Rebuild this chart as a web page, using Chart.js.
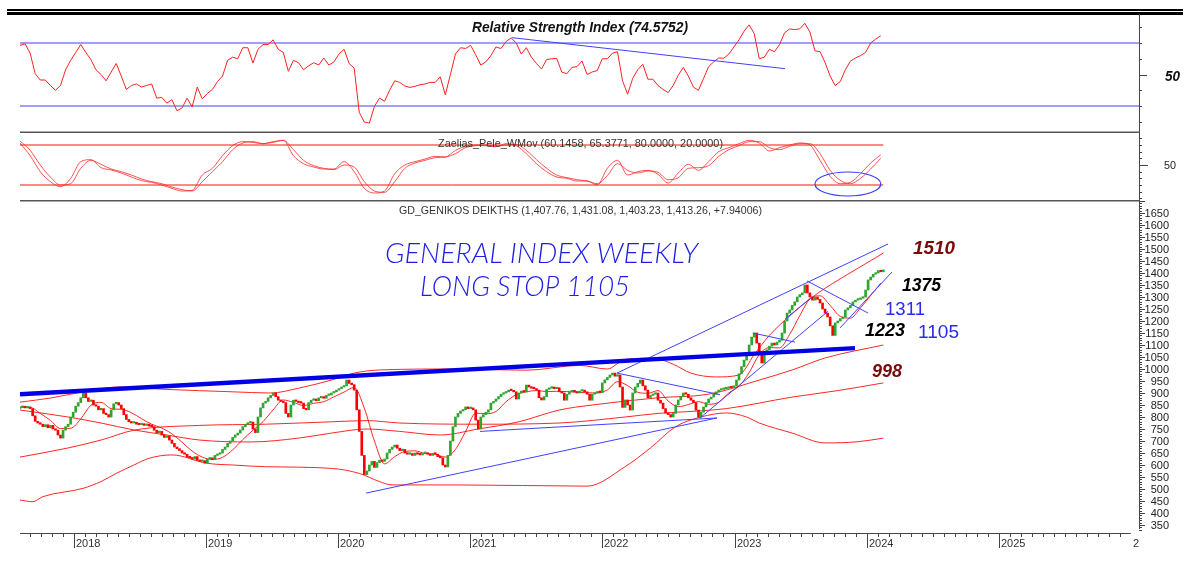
<!DOCTYPE html>
<html>
<head>
<meta charset="utf-8">
<script src="https://cdn.jsdelivr.net/npm/chart.js@4.4.1/dist/chart.umd.min.js"></script>
<style>
  html, body { margin: 0; padding: 0; background: #fff; }
  #wrap { position: relative; width: 1184px; height: 561px; overflow: hidden; background: #fff; }
  #wrap canvas { position: absolute; left: 0; }
  .rule { position: absolute; left: 7px; width: 1176px; background: #000; }
</style>
</head>
<body>
<div id="wrap">
  <div class="rule" style="top:9px;height:2px"></div>
  <div class="rule" style="top:12px;height:3px"></div>
  <canvas id="rsi" width="1184" height="119" style="top:14px"></canvas>
  <canvas id="osc" width="1184" height="67" style="top:133px"></canvas>
  <canvas id="main" width="1184" height="361" style="top:200px"></canvas>
</div>
<script>
// first weekly bar (decimal year) and week length
const FIRST_WEEK = 2017.5912;
const WEEK = 7 / 365.25;
const FIRST_OPEN = 836;

// weekly closes, Aug 2017 - Feb 2024
const closes = [
  840, 845, 838, 842, 835, 805, 782, 775, 770, 760,
  768, 755, 765, 750, 745, 725, 712, 745, 760, 770,
  800, 820, 845, 860, 880, 900, 880, 865, 870, 850,
  845, 830, 835, 815, 810, 800, 830, 855, 860, 850,
  835, 810, 790, 780, 775, 778, 770, 768, 772, 765,
  770, 762, 760, 745, 735, 740, 725, 715, 720, 704,
  690, 675, 668, 660, 650, 645, 633, 630, 625, 635,
  620, 615, 618, 608, 625, 630, 622, 640, 645, 650,
  665, 675, 690, 700, 715, 725, 733, 746, 760, 770,
  775, 779, 750, 735, 800, 838, 858, 865, 880, 890,
  900, 885, 870, 865, 860, 815, 800, 850, 870, 865,
  860, 858, 835, 830, 860, 870, 875, 868, 880, 885,
  878, 890, 892, 900, 905, 912, 918, 925, 930, 954,
  940, 935, 912, 830, 740, 640, 560, 575, 600, 615,
  590, 610, 620, 615, 625, 650, 665, 675, 683, 670,
  660, 665, 650, 645, 648, 640, 650, 645, 642, 648,
  650, 645, 640, 648, 645, 635, 630, 600, 592, 640,
  700, 760, 800, 815, 825, 830, 842, 835, 838, 830,
  787, 750, 800, 810, 820, 830, 858, 865, 875, 885,
  895, 900, 905, 912, 910, 905, 875, 900, 908, 904,
  933, 925, 920, 918, 912, 880, 871, 885, 915, 920,
  925, 918, 922, 905, 900, 870, 895, 905, 910, 905,
  900, 908, 912, 905, 895, 870, 895, 900, 905, 902,
  942, 955, 965, 975, 983, 970, 975, 925, 840, 871,
  850, 829, 900, 925, 940, 954, 930, 912, 880, 890,
  895, 900, 870, 858, 835, 817, 810, 800, 815, 850,
  871, 885, 900, 895, 880, 870, 860, 829, 800, 820,
  842, 860, 875, 883, 895, 905, 912, 915, 918, 920,
  925, 922, 930, 954, 980, 1010, 1037, 1067, 1100, 1133,
  1150, 1108, 1060, 1025, 1067, 1080, 1095, 1108, 1100, 1112,
  1120, 1150, 1200, 1233, 1246, 1265, 1280, 1300, 1310, 1317,
  1350, 1317, 1300, 1287, 1300, 1290, 1275, 1250, 1233, 1217,
  1180, 1140, 1192, 1200, 1210, 1217, 1246, 1255, 1265, 1280,
  1287, 1290, 1295, 1300, 1329, 1371, 1383, 1395, 1400, 1410,
  1405, 1413
];

// RSI, one value every 2 weeks
const RSI_STEP = 2;
const rsi = [
  68.5, 69.5, 63.6, 50.5, 46.5, 46.5, 43, 40, 43, 53,
  59, 64, 69, 64, 59.5, 53, 50, 46, 51.5, 57,
  49, 40.5, 43, 44, 42, 43, 44, 35, 35.5, 31.8,
  34, 27, 28.7, 35, 29.4, 42, 34.5, 38, 40.5, 45.5,
  49, 59, 61, 60, 67, 67, 57.3, 66, 69, 69,
  72, 66, 64, 52, 59, 57.5, 53, 55.5, 57.5, 56,
  60.5, 56, 58, 63, 66, 57, 54, 26, 19.8, 19.2,
  29.8, 35, 33, 40, 46, 45, 42.7, 41.8, 42.5, 43.5,
  44, 45, 45, 48.5, 37, 50, 63, 67, 66.5, 68.5,
  62.5, 56, 58, 62, 67.5, 66.5, 71, 73.2, 70, 63,
  67, 61, 57, 53.5, 59.5, 60, 60.2, 51.5, 50.5, 54.5,
  55, 58.6, 50, 51.6, 52.5, 60, 60, 63.5, 64.5, 46,
  37.5, 47.5, 53, 56.5, 47, 47, 43, 40.5, 38.5, 43,
  49.5, 54.5, 49, 42, 40, 47.5, 55, 58, 60.5, 60.3,
  63, 67.5, 72, 77.5, 81.5, 76, 60, 61, 66, 64.5,
  69, 76.5, 78.9, 78.5, 79, 82.5, 77, 65, 64.5, 57.5,
  49, 43, 45.5, 53, 58.5, 60.5, 62, 64, 70, 72.5, 74.6
];
const rsiLevels = [70, 30];
const rsiTrend = [194.3, 73.4, 302.2, 53.7];

// Zaelias_Pele oscillator, one value every 4 weeks
const OSC_STEP = 4;
const oscFast = [
  83, 64, 40, 25, 17.5, 30, 55, 58, 46, 42.5,
  38, 32, 26.5, 24, 20, 15, 11, 12, 35, 45,
  64, 79, 85, 84, 82, 85, 87, 64, 52, 47,
  44, 44, 55, 40, 15, 8, 11, 37, 50, 55,
  59, 63, 62, 72, 78, 80, 79, 77.5, 82, 79,
  67, 52, 40, 32, 30, 26, 26, 20, 45, 57,
  35, 40, 42, 36, 23, 38, 51, 42, 55, 70,
  76, 82, 87, 83, 71, 76, 80, 83, 80, 57,
  33, 22, 24, 37, 53, 65.4
];
const oscSlow = [
  86, 72, 50, 32, 20, 22, 45, 57, 51, 44,
  40, 35, 29, 25, 22, 17, 13, 11, 25, 40,
  55, 73, 83, 85, 82, 84, 87, 73, 57, 49,
  45, 43, 50, 47, 25, 11, 9, 25, 45, 53,
  57, 61, 62, 67, 76, 79, 80, 78, 80, 81,
  72, 58, 45, 35, 31, 28, 26, 22, 34, 52,
  42, 38, 41, 39, 28, 31, 45, 46, 49, 63,
  73, 79, 85, 85, 76, 73, 78, 82, 82, 67,
  42, 27, 22, 30, 44, 60.1
];
const oscLevels = [80, 20];

// short moving average, one value every 4 weeks
const MA_STEP = 4;
const maFast = [
  840, 840, 815, 786, 752, 753, 792, 849, 861, 835,
  832, 818, 793, 770, 754, 730, 695, 658, 633, 623,
  632, 663, 706, 745, 781, 830, 871, 861, 848, 857,
  864, 884, 904, 923, 837, 700, 605, 635, 656, 659,
  648, 645, 633, 665, 740, 816, 814, 823, 864, 893,
  905, 910, 906, 907, 906, 903, 901, 900, 913, 947,
  931, 903, 899, 910, 867, 843, 852, 864, 853, 862,
  901, 928, 985, 1060, 1089, 1088, 1144, 1222, 1292, 1305,
  1265, 1219, 1212, 1255, 1306, 1358
];

// bands and long averages (week index, value)
const upperWeeks = [0, 12, 25, 39, 58, 84, 99, 110, 123, 132, 142, 170, 200, 221, 232, 239, 250, 258, 265, 275, 284, 290, 296, 305, 315, 327, 335, 341];
const upperBand  = [862, 879, 905, 925, 915, 905, 900, 920, 954, 983, 996, 1000, 995, 1015, 1000, 1040, 1045, 1020, 983, 967, 975, 1060, 1140, 1230, 1315, 1395, 1445, 1483];
const midWeeks = [0, 19, 32, 45, 58, 71, 91, 110, 123, 137, 150, 166, 181, 197, 213, 226, 252, 272, 292, 305, 318, 341];
const midAvg   = [829, 800, 775, 746, 725, 704, 696, 712, 733, 750, 740, 725, 750, 780, 829, 850, 880, 895, 954, 996, 1046, 1100];
const longWeeks = [0, 19, 32, 45, 71, 97, 123, 137, 150, 181, 213, 239, 252, 268, 279, 305, 323, 341];
const longAvg   = [633, 671, 704, 745, 765, 770, 780, 785, 775, 770, 775, 800, 815, 825, 835, 883, 910, 942];
const lowerWeeks = [0, 5, 9, 25, 32, 38, 45, 51, 60, 74, 84, 97, 123, 134, 142, 147, 173, 224, 239, 249, 259, 269, 279, 287, 292, 305, 318, 331, 341];
const lowerBand  = [454, 447, 468, 503, 531, 565, 600, 628, 642, 607, 600, 593, 586, 565, 531, 517, 517, 512, 593, 671, 760, 800, 817, 800, 775, 733, 692, 697, 712];

// hand-drawn trend lines: [week1, value1, week2, value2]
const supportLine = [0, 895, 329.8, 1087];
const trendLines = [
  [136.7, 483, 275.3, 796],
  [181.7, 740, 275.3, 796],
  [235.8, 983, 342.9, 1521],
  [235.8, 983, 276.5, 893],
  [268.6, 796, 319.1, 1240],
  [323.9, 1171, 344.4, 1404],
  [302.2, 1208, 312.8, 1300],
  [289.5, 1150, 306.1, 1112],
  [310.9, 1367, 335.0, 1233]
];

const yearTicks = [2018, 2019, 2020, 2021, 2022, 2023, 2024, 2025, 2026];
const priceTicks = [350, 400, 450, 500, 550, 600, 650, 700, 750, 800, 850, 900, 950, 1000, 1050, 1100, 1150, 1200, 1250, 1300, 1350, 1400, 1450, 1500, 1550, 1600, 1650];

// ---------------------------------------------------------------
const X_MIN = 2017.5912, X_MAX = 2026.062;
const FONT = "'Liberation Sans', Arial, sans-serif";
const RED = "rgba(255, 0, 0, 0.85)";
const BLUE = "#4040ff";

Chart.defaults.font.family = FONT;

const weekToYear = (w) => FIRST_WEEK + w * WEEK;
const stepSeries = (vals, step) => vals.map((v, k) => ({ x: weekToYear(k * step), y: v }));
const pairSeries = (weeks, vals) => weeks.map((w, k) => ({ x: weekToYear(w), y: vals[k] }));
const segment = (s) => [{ x: weekToYear(s[0]), y: s[1] }, { x: weekToYear(s[2]), y: s[3] }];
const levelLine = (v) => [{ x: weekToYear(0), y: v }, { x: weekToYear(closes.length - 1), y: v }];

const line = (data, color, width, extra) => ({
	type: "line",
	data: data,
	borderColor: color,
	borderWidth: width,
	pointRadius: 0,
	fill: false,
	...extra,
});

function panelOptions(yMin, yMax, bottomPad) {
	return {
		responsive: false,
		animation: false,
		events: [],
		layout: { padding: { left: 20, right: 45, top: 0, bottom: bottomPad } },
		plugins: { legend: { display: false }, tooltip: { enabled: false } },
		scales: {
			x: { type: "linear", min: X_MIN, max: X_MAX, offset: false, grid: { offset: false }, display: false },
			y: { type: "linear", min: yMin, max: yMax, display: false },
		},
	};
}

function stroke(ctx, x1, y1, x2, y2) {
	ctx.beginPath();
	ctx.moveTo(x1, y1);
	ctx.lineTo(x2, y2);
	ctx.stroke();
}

// draw text squeezed/stretched to a measured width
function fitText(ctx, text, x, y, width, font, color) {
	ctx.font = font;
	ctx.fillStyle = color;
	ctx.textAlign = "left";
	ctx.textBaseline = "alphabetic";
	const w = ctx.measureText(text).width;
	ctx.save();
	ctx.translate(x, y);
	ctx.scale(width / w, 1);
	ctx.fillText(text, 0, 0);
	ctx.restore();
}

function rightAxis(ctx, a, y, from, to, step, longAt, longLen) {
	ctx.strokeStyle = "#444";
	ctx.lineWidth = 1;
	stroke(ctx, a.right + 0.5, a.top, a.right + 0.5, a.bottom);
	for (let v = from; v <= to; v += step) {
		const py = Math.round(y.getPixelForValue(v)) + 0.5;
		stroke(ctx, a.right, py, a.right + (longAt.includes(v) ? longLen : 3), py);
	}
}

// ---------------- RSI panel ----------------
const rsiDecor = {
	id: "rsiDecor",
	afterDraw(chart) {
		const { ctx, chartArea: a, scales: { y } } = chart;
		ctx.save();
		ctx.strokeStyle = "#555";
		ctx.lineWidth = 1.5;
		stroke(ctx, a.left, a.bottom - 0.75, a.right, a.bottom - 0.75);
		rightAxis(ctx, a, y, 20, 80, 10, [50], 8);
		fitText(ctx, "50", 1165, y.getPixelForValue(50) + 6, 15, "italic bold 15px " + FONT, "#111");
		fitText(ctx, "Relative Strength Index (74.5752)", 472, 18, 216, "italic bold 15px " + FONT, "#111");
		ctx.restore();
	},
};

new Chart(document.getElementById("rsi"), {
	type: "line",
	data: {
		datasets: [
			line(segment(rsiTrend), BLUE, 1),
			line(stepSeries(rsi, RSI_STEP), "#ff2020", 1),
			...rsiLevels.map((v) => line([{ x: X_MIN, y: v }, { x: X_MAX, y: v }], BLUE, 1.2)),
		],
	},
	options: panelOptions(12.86, 88.41, 0),
	plugins: [rsiDecor],
});

// ---------------- oscillator panel ----------------
const oscDecor = {
	id: "oscDecor",
	afterDraw(chart) {
		const { ctx, chartArea: a, scales: { x, y } } = chart;
		ctx.save();
		rightAxis(ctx, a, y, 0, 90, 10, [50], 9);
		fitText(ctx, "50", 1164, y.getPixelForValue(50) + 4, 12, "11px " + FONT, "#222");
		fitText(ctx, "Zaelias_Pele_WMov (60.1458, 65.3771, 80.0000, 20.0000)", 438, 14, 285, "11px " + FONT, "#333");
		// circled bottom
		const cx = x.getPixelForValue(weekToYear(327));
		const cy = y.getPixelForValue(21.5);
		const rx = cx - x.getPixelForValue(weekToYear(314));
		const ry = y.getPixelForValue(3.5) - cy;
		ctx.strokeStyle = "#3a3aff";
		ctx.lineWidth = 1.2;
		ctx.beginPath();
		ctx.ellipse(cx, cy, rx, ry, 0, 0, Math.PI * 2);
		ctx.stroke();
		ctx.restore();
	},
};

new Chart(document.getElementById("osc"), {
	type: "line",
	data: {
		datasets: [
			line(stepSeries(oscFast, OSC_STEP), "rgba(255, 40, 40, 0.8)", 1, { cubicInterpolationMode: "monotone" }),
			line(stepSeries(oscSlow, OSC_STEP), "rgba(255, 40, 40, 0.8)", 1, { cubicInterpolationMode: "monotone" }),
			...oscLevels.map((v) => line(levelLine(v), "#ff1010", 1)),
		],
	},
	options: panelOptions(-2.5, 98, 0),
	plugins: [oscDecor],
});

// ---------------- price panel ----------------
const candles = closes.map((c, i) => ({ x: weekToYear(i), y: [i ? closes[i - 1] : FIRST_OPEN, c] }));

const mainDecor = {
	id: "mainDecor",
	afterDraw(chart) {
		const { ctx, chartArea: a, scales: { x, y } } = chart;
		ctx.save();
		ctx.strokeStyle = "#555";
		ctx.lineWidth = 1.5;
		stroke(ctx, a.left, a.top + 0.75, a.right, a.top + 0.75);

		// price axis
		ctx.strokeStyle = "#444";
		ctx.lineWidth = 1;
		stroke(ctx, a.right + 0.5, a.top, a.right + 0.5, a.bottom - 4);
		for (let v = 330; v <= 1700; v += 10) {
			const py = Math.round(y.getPixelForValue(v)) + 0.5;
			stroke(ctx, a.right, py, a.right + (v % 50 === 0 ? 6 : 3), py);
		}
		ctx.font = "11px " + FONT;
		ctx.fillStyle = "#222";
		ctx.textAlign = "right";
		ctx.textBaseline = "middle";
		priceTicks.forEach((v) => ctx.fillText(String(v), a.right + 30, y.getPixelForValue(v) + 1));

		// time axis
		const axisEnd = x.getPixelForValue(2026);
		stroke(ctx, a.left, a.bottom + 0.5, axisEnd, a.bottom + 0.5);
		for (let m = 0; m < 12 * 9; m++) {
			const t = 2017 + m / 12;
			if (t < X_MIN || t > 2026) continue;
			const px = Math.round(x.getPixelForValue(t)) + 0.5;
			stroke(ctx, px, a.bottom, px, a.bottom + (m % 12 === 0 ? 15 : 4));
		}
		ctx.textAlign = "left";
		ctx.textBaseline = "alphabetic";
		ctx.fillStyle = "#333";
		// last year label is cut by the price axis, as in the original
		ctx.save();
		ctx.beginPath();
		ctx.rect(0, a.bottom, a.right, 40);
		ctx.clip();
		yearTicks.forEach((t) => {
			ctx.fillText(String(t), Math.round(x.getPixelForValue(t)) + 2, a.bottom + 14);
		});
		ctx.restore();

		// texts
		fitText(ctx, "GD_GENIKOS DEIKTHS (1,407.76, 1,431.08, 1,403.23, 1,413.26, +7.94006)", 399, 14, 363, "11px " + FONT, "#333");
		const hand = "italic 300 27px Lato, 'Open Sans', sans-serif";
		fitText(ctx, "GENERAL INDEX WEEKLY", 385, 63, 313, hand, "#1e1ee6");
		fitText(ctx, "LONG STOP 1105", 420, 96, 210, hand, "#1e1ee6");
		const bold = "italic bold 19px " + FONT;
		const plain = "19px " + FONT;
		fitText(ctx, "1510", 913, 54, 42, bold, "#7a0a0a");
		fitText(ctx, "1375", 902, 91, 39, bold, "#000");
		fitText(ctx, "1311", 885, 115, 40, plain, "#2a2aee");
		fitText(ctx, "1223", 865, 136, 40, bold, "#000");
		fitText(ctx, "1105", 918, 138, 41, plain, "#2a2aee");
		fitText(ctx, "998", 872, 177, 30, bold, "#7a0a0a");
		ctx.restore();
	},
};

new Chart(document.getElementById("main"), {
	type: "line",
	data: {
		datasets: [
			line(segment(supportLine), "#0000e6", 4.5),
			...trendLines.map((s) => line(segment(s), BLUE, 1)),
			{
				type: "bar",
				data: candles,
				grouped: false,
				barThickness: 2,
				minBarLength: 1.5,
				backgroundColor: (c) => (c.raw && c.raw.y[1] >= c.raw.y[0] ? "#2ea62e" : "#ff0000"),
				borderWidth: 0,
			},
			line(stepSeries(maFast, MA_STEP), RED, 1, { cubicInterpolationMode: "monotone" }),
			line(pairSeries(upperWeeks, upperBand), RED, 1, { cubicInterpolationMode: "monotone" }),
			line(pairSeries(midWeeks, midAvg), RED, 1, { cubicInterpolationMode: "monotone" }),
			line(pairSeries(longWeeks, longAvg), RED, 1, { cubicInterpolationMode: "monotone" }),
			line(pairSeries(lowerWeeks, lowerBand), RED, 1, { cubicInterpolationMode: "monotone" }),
		],
	},
	options: panelOptions(316.7, 1704.2, 28),
	plugins: [mainDecor],
});
</script>
</body>
</html>
